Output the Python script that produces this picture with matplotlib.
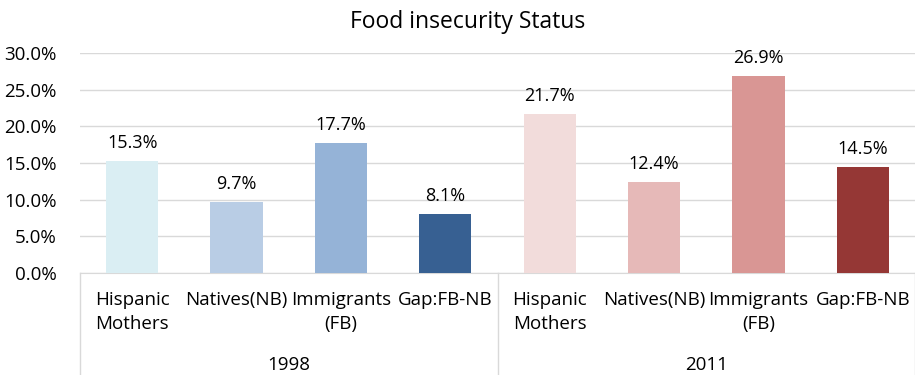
import numpy as np
import matplotlib
matplotlib.use('Agg')
import matplotlib.pyplot as plt

# Data
years = ['1998', '2011']
groups = ['Hispanic\nMothers', 'Natives(NB)', 'Immigrants\n(FB)', 'Gap:FB-NB']
vals_1998 = [15.3, 9.7, 17.7, 8.1]
vals_2011 = [21.7, 12.4, 26.9, 14.5]
colors_1998 = ['#DAEEF3', '#B9CDE5', '#95B3D7', '#376092']
colors_2011 = ['#F2DCDB', '#E6B9B8', '#D99694', '#953735']

plt.rcParams['font.family'] = ['Open Sans', 'DejaVu Sans']

W, H = 915, 375
fig = plt.figure(figsize=(W/100, H/100), dpi=100)
left, right, top, bot = 80, 915, 53, 273
ax = fig.add_axes([left/W, 1 - bot/H, (right-left)/W, (bot-top)/H])

values = vals_1998 + vals_2011
colors = colors_1998 + colors_2011
labels = groups + groups
x = np.arange(len(values))

ax.bar(x, values, width=0.5, color=colors, zorder=3)
for xi, v in zip(x, values):
    ax.annotate(f'{v:.1f}%', xy=(xi, v), xytext=(0, 9), textcoords='offset pixels',
                ha='center', va='bottom', fontsize=13, color='#000000')

ax.set_xlim(-0.5, len(values) - 0.5)
ax.set_ylim(0, 30)
ax.set_yticks(np.arange(0, 31, 5))
ax.set_yticklabels([f'{t:.1f}%' for t in np.arange(0, 31, 5)])
ax.tick_params(axis='y', length=0, pad=17, labelsize=13.5)
ax.set_xticks([])
ax.grid(axis='y', color='#D9D9D9', linewidth=1, zorder=0)
for s in ['top', 'right', 'left']:
    ax.spines[s].set_visible(False)
ax.spines['bottom'].set_color('#D9D9D9')

fig.text(468/W, 1 - 22/H, 'Food insecurity Status', fontsize=16.5,
         ha='center', va='center')

# multi-level category axis
trans = ax.get_xaxis_transform()
depth = (H - bot) / (bot - top)
for xi, lab in zip(x, labels):
    ax.annotate(lab, xy=(xi, 0), xycoords=trans, xytext=(0, -18),
                textcoords='offset pixels', ha='center', va='top',
                fontsize=13.5, linespacing=1.4)
for i, yr in enumerate(years):
    ax.annotate(yr, xy=(i*4 + 1.5, 0), xycoords=trans, xytext=(0, -83),
                textcoords='offset pixels', ha='center', va='top', fontsize=13.5)
for sep in [-0.5, 3.5, 7.5]:
    ax.plot([sep, sep], [0, -depth], transform=trans, color='#D9D9D9',
            linewidth=1, clip_on=False)

fig.savefig('out.png', dpi=100)
